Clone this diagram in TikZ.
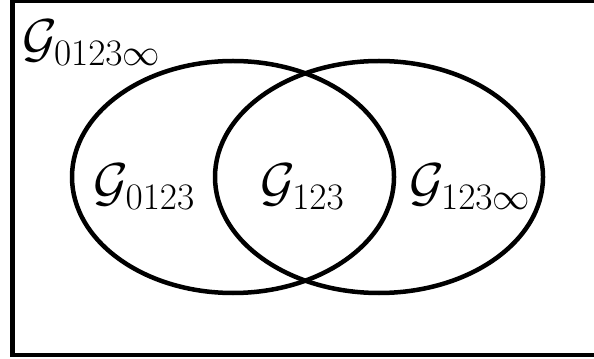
\documentclass[tikz,border=0pt]{standalone}
\usepackage{fix-cm}
\usetikzlibrary{positioning}

\tikzstyle{setname} = [inner sep=0pt, font=\fontsize{38}{44}\selectfont]
\tikzstyle{setline} = [line width=3.2pt]

\begin{document}
\begin{tikzpicture}
\useasboundingbox (0,0) rectangle (14.85,8.95);
\clip (0,0) rectangle (14.85,8.95);

% outer set
\draw [line width=3.5pt] (0.3125,0.075) rectangle (15.2,8.94);

% the two ellipses
\draw [setline] (5.825,4.525) ellipse (4.025cm and 2.9cm);
\draw [setline] (9.475,4.525) ellipse (4.1cm and 2.9cm);

\node (all) [setname, anchor=base west] at (0.55,7.525) {$\mathcal{G}_{0123\infty}$};
\node (left) [setname, anchor=base] at (3.6125,3.925) {$\mathcal{G}_{0123}$};
\node (mid) [setname, anchor=base] at (7.5625,3.925) {$\mathcal{G}_{123}$};
\node (right) [setname, anchor=base] at (11.75,3.925) {$\mathcal{G}_{123\infty}$};

\end{tikzpicture}
\end{document}
